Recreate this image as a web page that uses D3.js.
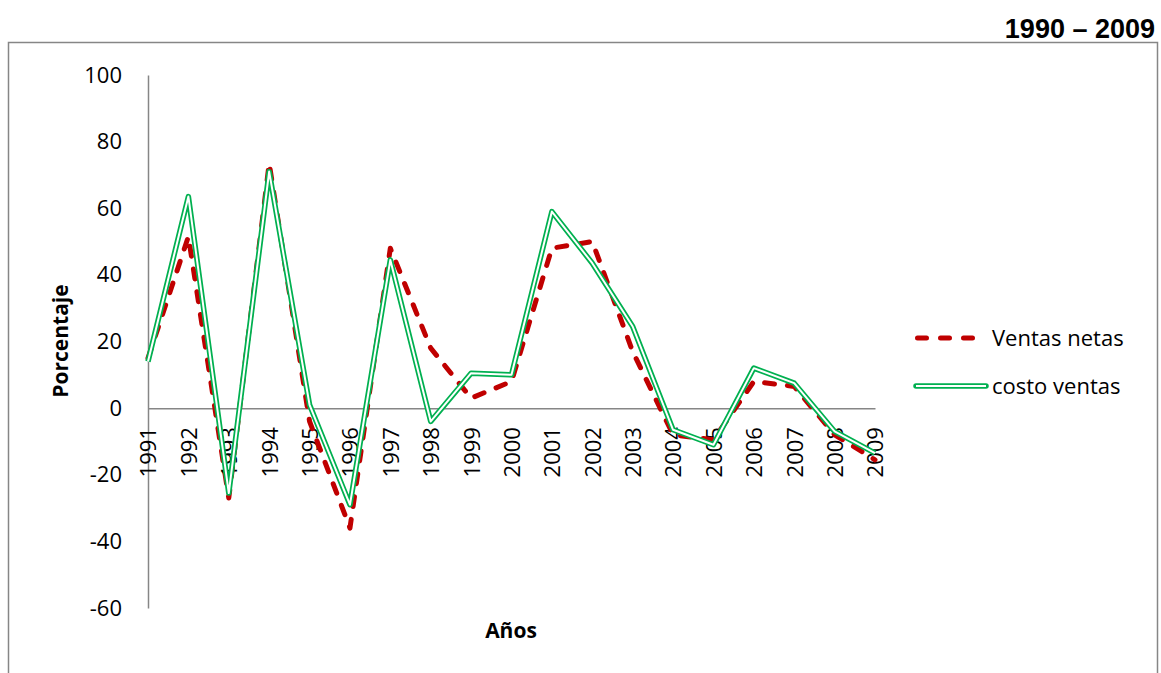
<!DOCTYPE html>
<html>
<head>
<meta charset="utf-8">
<script src="https://cdn.jsdelivr.net/npm/d3@7"></script>
<style>
  body { margin: 0; background: #fff; }
  svg { display: block; }
</style>
</head>
<body>
<svg id="chart" width="1161" height="673"></svg>
<script>
const years = ["1991","1992","1993","1994","1995","1996","1997","1998","1999","2000",
               "2001","2002","2003","2004","2005","2006","2007","2008","2009"];
const ventasNetas = [15, 51.5, -27, 73.5, -4, -36, 48, 18, 3, 8,
                     48, 50, 17, -8, -9.5, 8, 6.5, -8, -15.5];
const costoVentas = [14, 63.5, -25.5, 71, 1, -29, 44.5, -4, 10.5, 10,
                     59, 43.5, 24.5, -6.5, -11, 12, 7.5, -7, -13.5];
const yTicks = [-60, -40, -20, 0, 20, 40, 60, 80, 100];
const seriesNames = ["Ventas netas", "costo ventas"];
const titleText = "1990 \u2013 2009";

const svg = d3.select("#chart");
const RED = "#C00000", GREEN = "#00B050", AXIS = "#868686";
const FONT = "'Open Sans', 'Noto Sans', sans-serif";

// frame
svg.append("rect").attr("x", 8.5).attr("y", 42.5).attr("width", 1149).attr("height", 700)
  .attr("fill", "none").attr("stroke", AXIS).attr("stroke-width", 1.5);

// title
svg.append("text").attr("x", 1155).attr("y", 38).attr("text-anchor", "end")
  .attr("font-family", "'Liberation Sans', Arial, sans-serif").attr("font-weight", "bold")
  .attr("font-size", 27).attr("fill", "#000").text(titleText);

const x = d3.scalePoint().domain(years).range([148, 875]).padding(0);
const y = d3.scaleLinear().domain([-60, 100]).range([608, 75]);

// y axis
const gy = svg.append("g").attr("transform", "translate(148,0)")
  .call(d3.axisLeft(y).tickValues(yTicks).tickFormat(d => String(d))
    .tickSize(0).tickPadding(26).tickSizeOuter(0));
gy.select(".domain").attr("stroke", AXIS).attr("stroke-width", 1.5);
gy.selectAll("text").attr("font-family", FONT).attr("font-size", 22).attr("fill", "#000");

// x axis at zero
const gx = svg.append("g").attr("transform", `translate(0,${y(0)})`)
  .call(d3.axisBottom(x).tickSize(0).tickSizeOuter(0));
gx.select(".domain").attr("stroke", AXIS).attr("stroke-width", 1.5);
gx.selectAll("text")
  .attr("font-family", FONT).attr("font-size", 22).attr("fill", "#000")
  .attr("text-anchor", "end")
  .attr("transform", "rotate(-90)")
  .attr("x", -19).attr("y", 0).attr("dy", "0.36em");

// axis titles
svg.append("text").attr("transform", "translate(68,341) rotate(-90)")
  .attr("text-anchor", "middle").attr("font-family", FONT).attr("font-weight", "bold")
  .attr("font-size", 21).attr("fill", "#000").text("Porcentaje");
svg.append("text").attr("x", 511).attr("y", 638)
  .attr("text-anchor", "middle").attr("font-family", FONT).attr("font-weight", "bold")
  .attr("font-size", 21).attr("fill", "#000").text("Años");

const line = d3.line().x((d, i) => x(years[i])).y(d => y(d));

// Ventas netas - red dashed
svg.append("path").datum(ventasNetas).attr("d", line)
  .attr("fill", "none").attr("stroke", RED).attr("stroke-width", 5)
  .attr("stroke-dasharray", "10,13").attr("stroke-linecap", "round").attr("stroke-linejoin", "round");

// costo ventas - green double line
svg.append("path").datum(costoVentas).attr("d", line)
  .attr("fill", "none").attr("stroke", GREEN).attr("stroke-width", 5.5).attr("stroke-linejoin", "round");
svg.append("path").datum(costoVentas).attr("d", line)
  .attr("fill", "none").attr("stroke", "#fff").attr("stroke-width", 2).attr("stroke-linejoin", "round");

// legend
const lg = svg.append("g");
lg.append("line").attr("x1", 917.5).attr("x2", 975).attr("y1", 338).attr("y2", 338)
  .attr("stroke", RED).attr("stroke-width", 5).attr("stroke-dasharray", "9,14").attr("stroke-linecap", "round");
lg.append("text").attr("x", 992).attr("y", 338).attr("dy", "0.36em")
  .attr("font-family", FONT).attr("font-size", 22).attr("fill", "#000").text(seriesNames[0]);
lg.append("line").attr("x1", 916).attr("x2", 986).attr("y1", 386).attr("y2", 386)
  .attr("stroke", GREEN).attr("stroke-width", 5.5).attr("stroke-linecap", "round");
lg.append("line").attr("x1", 916).attr("x2", 986).attr("y1", 386).attr("y2", 386)
  .attr("stroke", "#fff").attr("stroke-width", 2);
lg.append("text").attr("x", 992).attr("y", 386).attr("dy", "0.36em")
  .attr("font-family", FONT).attr("font-size", 22).attr("fill", "#000").text(seriesNames[1]);
</script>
</body>
</html>
